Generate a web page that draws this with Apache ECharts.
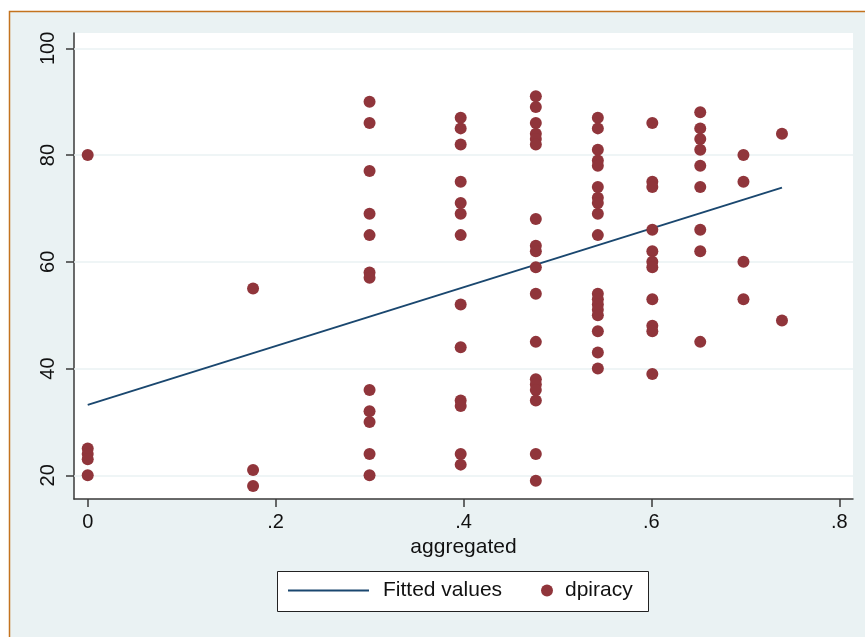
<!DOCTYPE html>
<html>
<head>
<meta charset="utf-8">
<script src="https://cdn.jsdelivr.net/npm/echarts@6/dist/echarts.min.js"></script>
<style>
  html, body { margin: 0; padding: 0; background: #ffffff; }
  #main { width: 865px; height: 637px; }
</style>
</head>
<body>
<div id="main"></div>
<script>
// aggregated value of each column of points, and the dpiracy values in that column
const aggregatedLevels = [0, 0.176, 0.300, 0.397, 0.477, 0.543, 0.601, 0.652, 0.698, 0.739]
const dpiracyByLevel = [
  [80, 25, 24, 23, 20],
  [55, 21, 18],
  [90, 86, 77, 69, 65, 58, 57, 36, 32, 30, 24, 20],
  [87, 85, 82, 75, 71, 69, 65, 52, 44, 34, 33, 24, 22],
  [91, 89, 86, 84, 83, 82, 68, 63, 62, 59, 54, 45, 38, 37, 36, 34, 24, 19],
  [87, 85, 81, 79, 78, 74, 72, 71, 69, 65, 54, 53, 52, 51, 50, 47, 43, 40],
  [86, 75, 74, 66, 62, 60, 59, 53, 48, 47, 39],
  [88, 85, 83, 81, 78, 74, 66, 62, 45],
  [80, 75, 60, 53],
  [84, 49]
]
// fitted line end points
const fittedX = [0, 0.739]
const fittedY = [33.2, 73.9]
// tick labels
const xTicks = [0, 0.2, 0.4, 0.6, 0.8]
const yTicks = [20, 40, 60, 80, 100]

const font = '"Liberation Sans", Arial, Helvetica, sans-serif'

const scatterData = []
for (let i = 0; i < aggregatedLevels.length; i++) {
  dpiracyByLevel[i].forEach(function(v) {
    scatterData.push([aggregatedLevels[i], v])
  })
}
const fittedData = fittedX.map(function(x, i) { return [x, fittedY[i]] })

const chart = echarts.init(document.getElementById('main'), null, { renderer: 'canvas' })
chart.setOption({
  animation: false,
  backgroundColor: '#ffffff',
  textStyle: { fontFamily: font },
  graphic: [
    {
      type: 'rect',
      z: -10,
      shape: { x: 9.5, y: 11.5, width: 880, height: 650 },
      style: { fill: '#eaf2f3', stroke: '#c4731f', lineWidth: 1.5 }
    },
    {
      type: 'rect',
      z: -5,
      shape: { x: 277.5, y: 571.5, width: 371, height: 40 },
      style: { fill: '#ffffff', stroke: '#222222', lineWidth: 1 }
    }
  ],
  grid: {
    left: 74,
    top: 33,
    width: 779,
    height: 466,
    show: true,
    backgroundColor: '#ffffff',
    borderWidth: 0
  },
  legend: [
    {
      data: [{ name: 'Fitted values', icon: 'rect' }],
      left: 288,
      top: 580,
      itemWidth: 81,
      itemHeight: 2,
      padding: 0,
      textStyle: { fontSize: 21, color: '#111', fontFamily: font, padding: [0, 0, 0, 9] }
    },
    {
      data: [{ name: 'dpiracy', icon: 'circle' }],
      left: 541,
      top: 580,
      itemWidth: 12,
      itemHeight: 12,
      padding: 0,
      textStyle: { fontSize: 21, color: '#111', fontFamily: font, padding: [0, 0, 0, 7] }
    }
  ],
  xAxis: {
    type: 'value',
    min: -0.0146,
    max: 0.8146,
    name: 'aggregated',
    nameLocation: 'middle',
    nameGap: 37,
    nameTextStyle: { fontSize: 21, color: '#111', fontFamily: font },
    axisLine: { show: true, onZero: false, lineStyle: { color: '#3a3a3a', width: 1.5 } },
    axisTick: { show: true, length: 8, customValues: xTicks, lineStyle: { color: '#3a3a3a', width: 1.5 } },
    axisLabel: {
      customValues: xTicks,
      margin: 13,
      fontSize: 20,
      color: '#111',
      fontFamily: font,
      formatter: function(v) { return v === 0 ? '0' : String(v).replace(/^0/, '') }
    },
    splitLine: { show: false }
  },
  yAxis: {
    type: 'value',
    min: 15.56,
    max: 102.87,
    axisLine: { show: true, onZero: false, lineStyle: { color: '#3a3a3a', width: 1.5 } },
    axisTick: { show: true, length: 8, customValues: yTicks, lineStyle: { color: '#3a3a3a', width: 1.5 } },
    axisLabel: {
      customValues: yTicks,
      rotate: 90,
      margin: 16,
      fontSize: 20,
      color: '#111',
      fontFamily: font
    },
    splitLine: { show: false }
  },
  series: [
    {
      name: 'Fitted values',
      type: 'line',
      z: 9,
      data: fittedData,
      symbol: 'none',
      lineStyle: { color: '#1a476f', width: 2 },
      itemStyle: { color: '#1a476f' },
      markLine: {
        silent: true,
        symbol: 'none',
        label: { show: false },
        lineStyle: { color: '#eaf2f3', width: 1.5, type: 'solid' },
        data: yTicks.map(function(v) { return { yAxis: v } })
      }
    },
    {
      name: 'dpiracy',
      type: 'scatter',
      z: 10,
      symbol: 'circle',
      symbolSize: 12,
      itemStyle: { color: '#90353b', opacity: 1 },
      data: scatterData
    }
  ]
})
</script>
</body>
</html>
